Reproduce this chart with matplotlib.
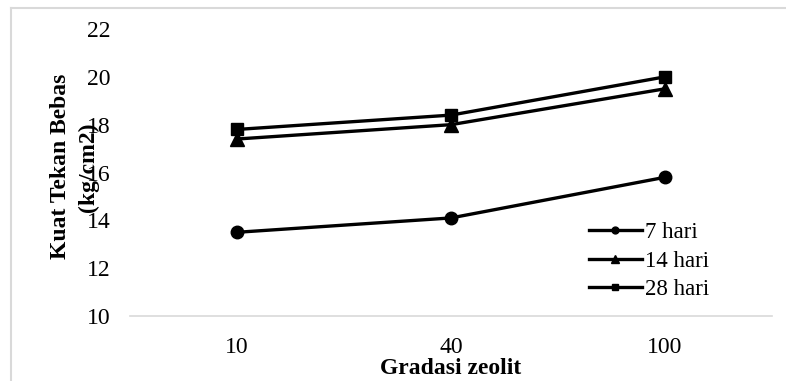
import matplotlib
matplotlib.use("Agg")
import matplotlib.pyplot as plt
from matplotlib.lines import Line2D

plt.rcParams['font.family'] = ['Liberation Serif', 'DejaVu Serif']

categories = ["10", "40", "100"]
series_names = ["7 hari", "14 hari", "28 hari"]
hari7 = [13.5, 14.1, 15.8]
hari14 = [17.4, 18.0, 19.5]
hari28 = [17.8, 18.4, 20.0]
yticks = [10, 12, 14, 16, 18, 20, 22]

W, H = 786, 381
fig = plt.figure(figsize=(W / 100, H / 100), dpi=100)
ax = fig.add_axes([130 / W, 1 - 316 / H, (772 - 130) / W, (316 - 29) / H])

x = list(range(len(categories)))
ax.plot(x, hari7, color='black', lw=2.4, marker='o', ms=9, label=series_names[0])
ax.plot(x, hari14, color='black', lw=2.4, marker='^', ms=10, label=series_names[1])
ax.plot(x, hari28, color='black', lw=2.4, marker='s', ms=8.5, label=series_names[2])

ax.set_xlim(-0.5, 2.5)
ax.set_ylim(10, 22)
ax.set_yticks(yticks)
ax.set_xticks(x)
ax.set_xticklabels(categories)
ax.tick_params(axis='both', length=0, labelsize=17)
ax.tick_params(axis='y', pad=14)
ax.tick_params(axis='x', pad=15)
for s in ['top', 'right', 'left']:
    ax.spines[s].set_visible(False)
ax.spines['bottom'].set_color('#d9d9d9')
ax.spines['bottom'].set_linewidth(1.2)

leg = ax.legend(loc='center left', bbox_to_anchor=(589 / W, 1 - 261 / H),
                bbox_transform=fig.transFigure, frameon=False, fontsize=16.5,
                borderpad=0, borderaxespad=0, handlelength=2.3,
                handletextpad=0.15, labelspacing=0.32, markerscale=0.55)

fig.text(60 / W, 1 - 166 / H, "Kuat Tekan Bebas", rotation=90, ha='center',
         va='center', fontsize=17, fontweight='bold')
fig.text(88 / W, 1 - 167 / H, "(kg/cm2)", rotation=90, ha='center',
         va='center', fontsize=17, fontweight='bold')
fig.text(451 / W, 1 - 368 / H, "Gradasi zeolit", ha='center', va='center',
         fontsize=17, fontweight='bold')

# chart area border (top and left visible)
fig.add_artist(Line2D([10.5 / W, 1.0], [1 - 7.5 / H, 1 - 7.5 / H],
                      transform=fig.transFigure, color='#d9d9d9', lw=1.5))
fig.add_artist(Line2D([10.5 / W, 10.5 / W], [0, 1 - 7.5 / H],
                      transform=fig.transFigure, color='#d9d9d9', lw=1.5))

fig.savefig("out.png", dpi=100)
